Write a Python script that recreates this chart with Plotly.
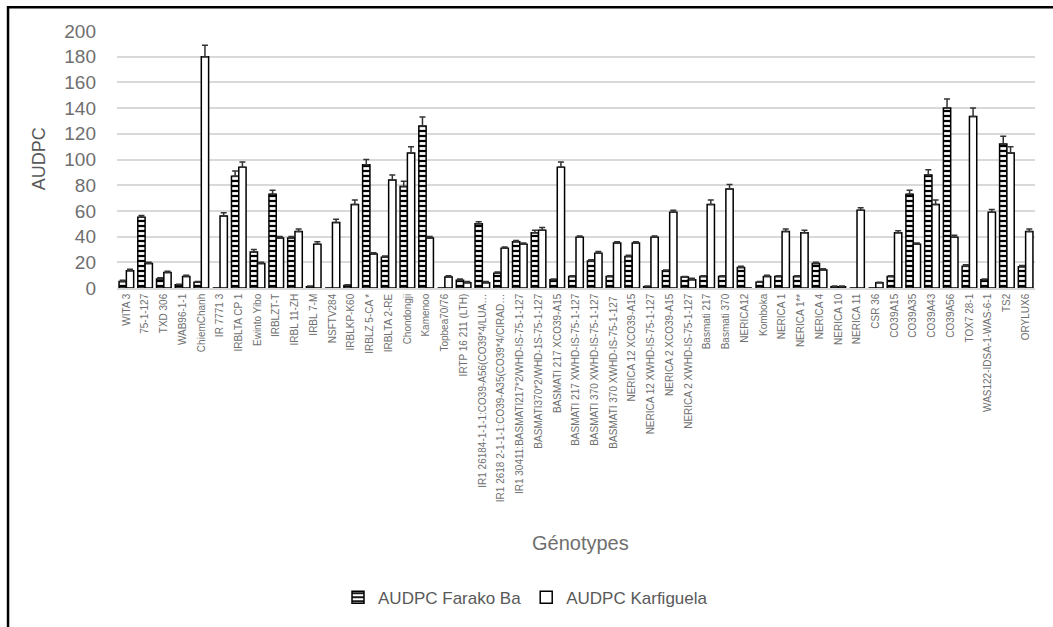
import plotly.graph_objects as go

genotypes = [
    "WITA 3", "75-1-127", "TXD 306", "WAB96-1-1", "ChiemChanh", "IR 7771 3",
    "IRBLTA CP 1", "Ewinto Yibo", "IRBLZT-T", "IRBL 11-ZH", "IRBL 7-M", "NSFTV284",
    "IRBLKP-K60", "IRBLZ 5-CA *", "IRBLTA 2-RE", "Chondongji", "Kamenoo",
    "Topbea70/76", "IRTP 16 211 (LTH)",
    "IR1 26184-1-1-1:CO39-A56(CO39*4/LUA…",
    "IR1 2618 2-1-1-1:CO39-A35(CO39*4/CIRAD…",
    "IR1 30411:BASMATI217*2/WHD-IS-75-1-127",
    "BASMATI370*2/WHD-1S-75-1-127",
    "BASMATI 217 XCO39-A15", "BASMATI 217 XWHD-IS-75-1-127",
    "BASMATI 370 XWHD-IS-75-1-127", "BASMATI 370 XWHD-IS-75-1-127 ",
    "NERICA 12 XCO39-A15", "NERICA 12 XWHD-IS-75-1-127",
    "NERICA 2 XCO39-A15", "NERICA 2 XWHD-IS-75-1-127",
    "Basmati 217", "Basmati 370", "NERICA12", "Komboka", "NERICA 1",
    "NERICA 1**", "NERICA 4", "NERICA 10", "NERICA 11", "CSR 36", "CO39A15",
    "CO39A35", "CO39A43", "CO39A56", "TOX7 28-1", "WAS122-IDSA-1-WAS-6-1",
    "TS2", "ORYLUX6",
]

farako_ba = [5, 55, 7, 2.5, 4.5, 0, 87, 28, 73, 39, 1, 0, 2, 96, 24, 79, 126,
             0, 6, 50, 11.5, 36, 43, 6.5, 9, 21, 9, 24.5, 1, 13.5, 8.5,
             9, 9, 16, 4.5, 9, 9, 19, 1, 0, 0, 9, 73, 88, 140, 17, 6.5, 112, 16.5]
farako_err = [1, 1.5, 1, 0.5, 0.5, 0, 4, 2, 3, 1, 0.5, 0, 0.5, 4, 1, 4, 7,
              0, 1, 1.5, 1, 1, 2, 0.5, 0.5, 1, 0.5, 1, 0.5, 0.5, 0.5,
              0.5, 0.5, 1, 0.5, 0.5, 0.5, 1, 0.5, 0, 0, 0.5, 3, 4, 7, 1, 0.5, 6, 1]

karfiguela = [13.5, 19, 12, 9, 180, 56, 94, 19, 39, 44, 34, 51, 65, 26.5, 84, 105, 39,
              8.5, 4, 4, 31, 34, 45, 94, 39.5, 27, 35, 35, 39.5, 59, 6.5,
              65, 77, 0, 9, 44, 43, 14, 1, 60.5, 4, 43, 34, 65, 39.5, 133.5, 59, 105, 44]
karfiguela_err = [1, 1, 1, 1, 9, 2.5, 4, 1, 1, 2, 2, 2.5, 3.5, 1, 4, 5, 1,
                  1, 1, 1, 1, 1, 2, 4, 1, 1.5, 1, 1, 1, 1.5, 1,
                  3.5, 3.5, 0, 1, 2, 2, 1, 0.5, 2, 0.5, 1.5, 1, 3.5, 1.5, 6.5, 2, 5, 2]

GRAY = "#595959"
LGRAY = "#6f6f6f"

fig = go.Figure()
fig.add_trace(go.Bar(
    name="AUDPC Farako Ba", x=genotypes, y=farako_ba,
    marker=dict(color="black", line=dict(color="black", width=1.5),
                pattern=dict(shape="-", fgcolor="white", bgcolor="black",
                             size=5, solidity=0.55, fillmode="replace")),
    error_y=dict(type="data", array=farako_err, arrayminus=[0] * len(farako_err),
                 symmetric=False, color="#333333", thickness=1.5, width=3),
))
fig.add_trace(go.Bar(
    name="AUDPC Karfiguela", x=genotypes, y=karfiguela,
    marker=dict(color="white", line=dict(color="black", width=1.5)),
    error_y=dict(type="data", array=karfiguela_err, arrayminus=[0] * len(karfiguela_err),
                 symmetric=False, color="#333333", thickness=1.5, width=3),
))

# outer frame
fig.add_shape(type="rect", xref="paper", yref="paper",
              x0=-0.1187, x1=1.1, y0=-1.5, y1=1.092,
              line=dict(color="black", width=2.5), fillcolor="rgba(0,0,0,0)")

# axis titles as annotations for precise placement
fig.add_annotation(text="Génotypes", xref="paper", yref="paper",
                   x=0.505, y=-0.992, xanchor="center", yanchor="middle",
                   showarrow=False, font=dict(size=20, color=LGRAY,
                   family="Liberation Sans Narrow, Liberation Sans, sans-serif"))
fig.add_annotation(text="AUDPC", xref="paper", yref="paper",
                   x=-0.085, y=0.505, xanchor="center", yanchor="middle",
                   textangle=-90, showarrow=False,
                   font=dict(size=18, color=GRAY,
                   family="Liberation Sans Narrow, Liberation Sans, sans-serif"))

fig.update_layout(
    width=1053, height=627,
    margin=dict(l=117, r=18, t=31, b=335),
    paper_bgcolor="white", plot_bgcolor="white",
    barmode="group", bargap=0.22, bargroupgap=0.0,
    font=dict(family="Liberation Sans Narrow, Liberation Sans, sans-serif", color=GRAY),
    showlegend=True,
    legend=dict(orientation="h", x=0.445, xanchor="center", y=-1.205, yanchor="middle",
                font=dict(size=17, color=GRAY, family="Liberation Sans Narrow, sans-serif"),
                itemwidth=30, traceorder="normal"),
    xaxis=dict(
        type="category", tickangle=-90,
        tickfont=dict(size=10, color=LGRAY, family="Liberation Sans, sans-serif"),
        showgrid=False, showline=True, linecolor="#d9d9d9", linewidth=1.5,
        ticks="", ticklen=0,
    ),
    yaxis=dict(
        range=[0, 200], dtick=20, tick0=0,
        tickfont=dict(size=19, color=LGRAY, family="Liberation Sans Narrow, sans-serif"),
        ticklabelstandoff=20,
        showgrid=True, gridcolor="#d9d9d9", gridwidth=2,
        zeroline=False, showline=False, ticks="", ticklen=0,
    ),
)

fig.write_html("out.html", config={"displayModeBar": False})

# remove default body margin so the figure sits at the page origin
with open("out.html", "r", encoding="utf-8") as f:
    html = f.read()
html = html.replace("<head>", "<head><style>html,body{margin:0;padding:0;}</style>", 1)
with open("out.html", "w", encoding="utf-8") as f:
    f.write(html)
